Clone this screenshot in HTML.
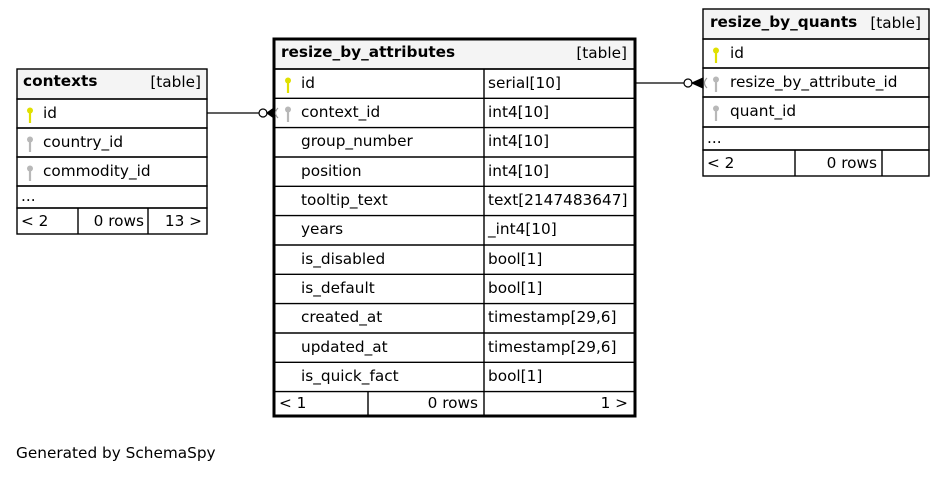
<!DOCTYPE html>
<html><head><meta charset="utf-8"><style>
html,body{margin:0;padding:0;background:#fff;}
svg text{font-family:"DejaVu Sans","Liberation Sans",sans-serif;font-size:15.3px;fill:#000;}
.b{font-weight:bold;}
</style></head><body>
<svg width="944" height="473" viewBox="0 0 944 473" xmlns="http://www.w3.org/2000/svg">
<defs>
<g id="ky"><circle cx="0" cy="-3.5" r="3"/><rect x="-1.1" y="-1" width="2.2" height="10"/></g>
</defs>
<rect width="944" height="473" fill="#fff"/>

<!-- contexts -->
<g stroke="#000" stroke-width="1.4" fill="none">
<rect x="17" y="69" width="190" height="30" fill="#f4f4f4"/>
<rect x="17" y="99" width="190" height="29"/>
<rect x="17" y="128" width="190" height="29"/>
<rect x="17" y="157" width="190" height="29"/>
<rect x="17" y="186" width="190" height="22"/>
<rect x="17" y="208" width="190" height="26"/>
<line x1="78" y1="208" x2="78" y2="234"/><line x1="148" y1="208" x2="148" y2="234"/>
</g>
<text x="23" y="86" class="b">contexts</text><text x="201" y="87" text-anchor="end">[table]</text>
<use href="#ky" x="30" y="114" fill="#e0e000"/><text x="43" y="118">id</text>
<use href="#ky" x="30" y="143" fill="#b8b8b8"/><text x="43" y="147">country_id</text>
<use href="#ky" x="30" y="172" fill="#b8b8b8"/><text x="43" y="176">commodity_id</text>
<text x="21" y="201">...</text>
<text x="21" y="226">&lt; 2</text><text x="144" y="226" text-anchor="end">0 rows</text><text x="202" y="226" text-anchor="end">13 &gt;</text>

<!-- resize_by_attributes -->
<g stroke="#000" stroke-width="1.4" fill="none">
<rect x="274" y="39" width="361" height="30" fill="#f4f4f4"/>
<line x1="274" y1="69" x2="635" y2="69"/>
<line x1="274" y1="98.3" x2="635" y2="98.3"/>
<line x1="274" y1="127.6" x2="635" y2="127.6"/>
<line x1="274" y1="157" x2="635" y2="157"/>
<line x1="274" y1="186.3" x2="635" y2="186.3"/>
<line x1="274" y1="215.6" x2="635" y2="215.6"/>
<line x1="274" y1="245" x2="635" y2="245"/>
<line x1="274" y1="274.3" x2="635" y2="274.3"/>
<line x1="274" y1="303.6" x2="635" y2="303.6"/>
<line x1="274" y1="333" x2="635" y2="333"/>
<line x1="274" y1="362.3" x2="635" y2="362.3"/>
<line x1="274" y1="391.6" x2="635" y2="391.6"/>
<line x1="484" y1="69" x2="484" y2="415"/>
<line x1="368" y1="391.6" x2="368" y2="415"/>
</g>
<rect x="274" y="39" width="361" height="377" fill="none" stroke="#000" stroke-width="3"/>
<text x="281" y="57" class="b">resize_by_attributes</text><text x="627" y="58" text-anchor="end">[table]</text>
<use href="#ky" x="288" y="84" fill="#e0e000"/><text x="301" y="88">id</text><text x="488" y="88">serial[10]</text>
<use href="#ky" x="288" y="113" fill="#b8b8b8"/><text x="301" y="117">context_id</text><text x="488" y="117">int4[10]</text>
<text x="301" y="146">group_number</text><text x="488" y="146">int4[10]</text>
<text x="301" y="176">position</text><text x="488" y="176">int4[10]</text>
<text x="301" y="205">tooltip_text</text><text x="488" y="205">text[2147483647]</text>
<text x="301" y="234">years</text><text x="488" y="234">_int4[10]</text>
<text x="301" y="264">is_disabled</text><text x="488" y="264">bool[1]</text>
<text x="301" y="293">is_default</text><text x="488" y="293">bool[1]</text>
<text x="301" y="322">created_at</text><text x="488" y="322">timestamp[29,6]</text>
<text x="301" y="352">updated_at</text><text x="488" y="352">timestamp[29,6]</text>
<text x="301" y="381">is_quick_fact</text><text x="488" y="381">bool[1]</text>
<text x="279" y="408">&lt; 1</text><text x="478" y="408" text-anchor="end">0 rows</text><text x="628" y="408" text-anchor="end">1 &gt;</text>

<!-- resize_by_quants -->
<g stroke="#000" stroke-width="1.4" fill="none">
<rect x="703" y="9" width="226" height="30" fill="#f4f4f4"/>
<rect x="703" y="39" width="226" height="29"/>
<rect x="703" y="68" width="226" height="29"/>
<rect x="703" y="97" width="226" height="30"/>
<rect x="703" y="127" width="226" height="23"/>
<rect x="703" y="150" width="226" height="26"/>
<line x1="795" y1="150" x2="795" y2="176"/><line x1="882" y1="150" x2="882" y2="176"/>
</g>
<text x="710" y="27" class="b">resize_by_quants</text><text x="921" y="28" text-anchor="end">[table]</text>
<use href="#ky" x="716" y="54" fill="#e0e000"/><text x="730" y="58">id</text>
<use href="#ky" x="716" y="83" fill="#b8b8b8"/><text x="730" y="87">resize_by_attribute_id</text>
<use href="#ky" x="716" y="112" fill="#b8b8b8"/><text x="730" y="116">quant_id</text>
<text x="707" y="143">...</text>
<text x="707" y="168">&lt; 2</text><text x="877" y="168" text-anchor="end">0 rows</text>

<!-- connectors -->
<g stroke="#000" stroke-width="1.2" fill="none">
<line x1="207" y1="113" x2="259" y2="113"/>
<circle cx="263" cy="113" r="4" fill="#fff"/>
<line x1="267" y1="113" x2="273" y2="113"/>
<path d="M267 113 L274 108 L274 118 Z" fill="#000"/>
<path d="M278 108 Q273 113 278 118" stroke="#999"/>
<line x1="636" y1="83" x2="684" y2="83"/>
<circle cx="688" cy="83" r="4" fill="#fff"/>
<path d="M692 83 L703 78 L703 88 Z" fill="#000"/>
<path d="M707 78 Q702 83 707 88" stroke="#999"/>
</g>

<text x="16" y="458">Generated by SchemaSpy</text>
</svg>
</body></html>
